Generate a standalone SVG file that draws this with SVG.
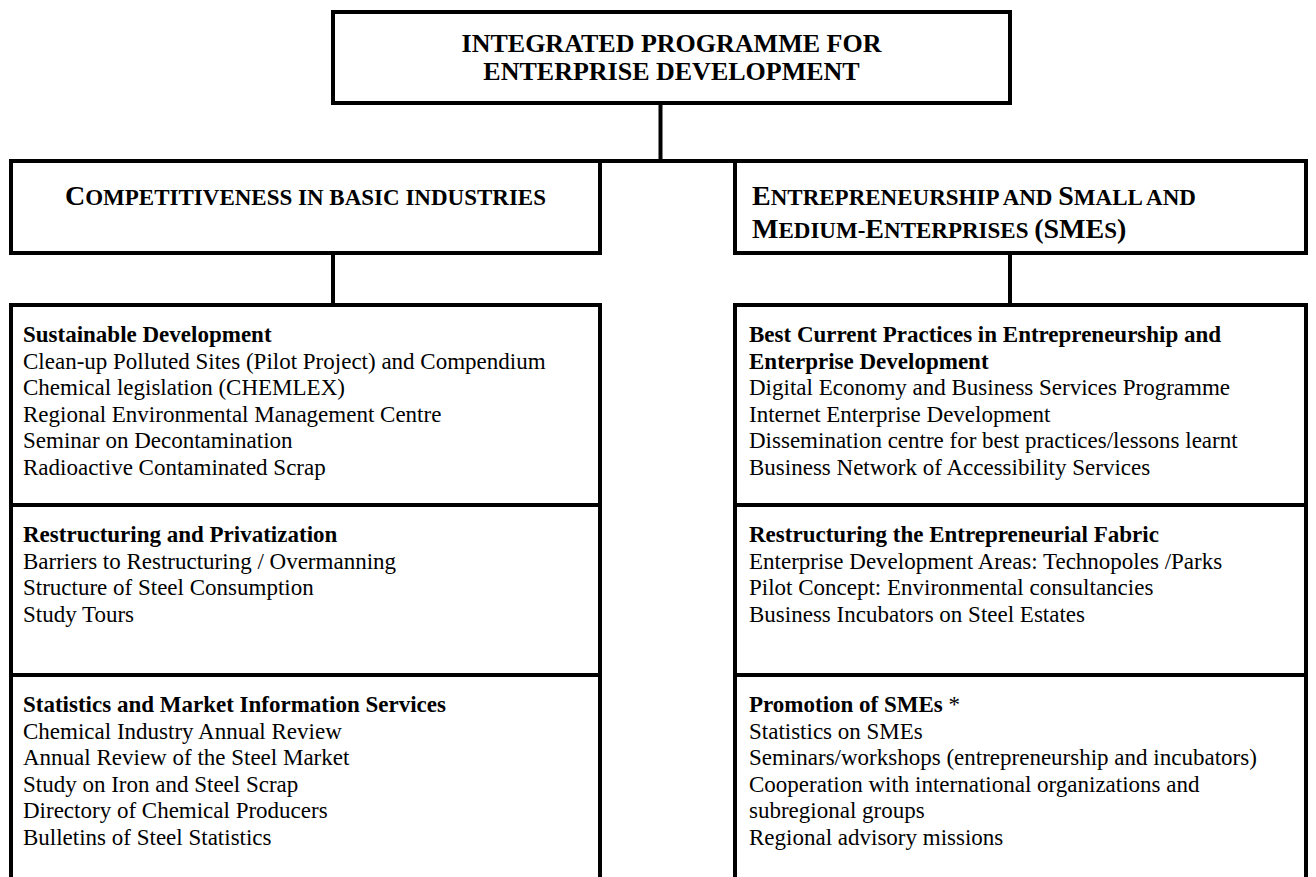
<svg xmlns="http://www.w3.org/2000/svg" width="1316" height="877" viewBox="0 0 1316 877">
<style>
.box{fill:#fff;stroke:#000;stroke-width:4}
.frame{fill:none;stroke:#000;stroke-width:4}
.div{stroke:#000;stroke-width:4}
.conn line{stroke:#000;stroke-width:4}
text{font-family:"Liberation Serif","Times New Roman",serif;fill:#000}
.title{font-size:26px;font-weight:bold}
.hd{font-size:28px;font-weight:bold}
.sc{font-size:23px}
.t{font-size:23px}
.b{font-weight:bold}
</style>
<rect width="1316" height="877" fill="#fff"/>
<g id="connectors" class="conn">
<line x1="660.5" y1="103" x2="660.5" y2="161"/>
<line x1="600" y1="161" x2="735" y2="161"/>
<line x1="333" y1="253" x2="333" y2="305"/>
<line x1="1010" y1="253" x2="1010" y2="305"/>
</g>
<g id="top">
<rect class="box" x="333" y="12" width="677" height="91"/>
<text class="title" x="671.5" y="52" text-anchor="middle">INTEGRATED PROGRAMME FOR</text>
<text class="title" x="671.5" y="80" text-anchor="middle">ENTERPRISE DEVELOPMENT</text>
</g>
<g id="competitiveness">
<rect class="box" x="11" y="161" width="589" height="92"/>
<text class="hd" x="305.5" y="205" text-anchor="middle">C<tspan class="sc">OMPETITIVENESS IN BASIC INDUSTRIES</tspan></text>
</g>
<g id="entrepreneurship">
<rect class="box" x="735" y="161" width="571" height="92"/>
<text class="hd" x="752" y="205">E<tspan class="sc">NTREPRENEURSHIP AND </tspan>S<tspan class="sc">MALL AND</tspan></text>
<text class="hd" x="752" y="238">M<tspan class="sc">EDIUM-</tspan>E<tspan class="sc">NTERPRISES </tspan>(SME<tspan class="sc">S</tspan>)</text>
</g>
<g id="left-programmes">
<path class="frame" d="M11,877 V305 H600 V877"/>
<line class="div" x1="11" y1="505" x2="600" y2="505"/>
<line class="div" x1="11" y1="675" x2="600" y2="675"/>
<g id="sustainable-development">
<text class="t b" x="23" y="342">Sustainable Development</text>
<text class="t" x="23" y="368.6">Clean-up Polluted Sites (Pilot Project) and Compendium</text>
<text class="t" x="23" y="395.2">Chemical legislation (CHEMLEX)</text>
<text class="t" x="23" y="421.8">Regional Environmental Management Centre</text>
<text class="t" x="23" y="448.4">Seminar on Decontamination</text>
<text class="t" x="23" y="475">Radioactive Contaminated Scrap</text>
</g>
<g id="restructuring-privatization">
<text class="t b" x="23" y="542">Restructuring and Privatization</text>
<text class="t" x="23" y="568.6">Barriers to Restructuring / Overmanning</text>
<text class="t" x="23" y="595.2">Structure of Steel Consumption</text>
<text class="t" x="23" y="621.8">Study Tours</text>
</g>
<g id="statistics-market">
<text class="t b" x="23" y="712">Statistics and Market Information Services</text>
<text class="t" x="23" y="738.6">Chemical Industry Annual Review</text>
<text class="t" x="23" y="765.2">Annual Review of the Steel Market</text>
<text class="t" x="23" y="791.8">Study on Iron and Steel Scrap</text>
<text class="t" x="23" y="818.4">Directory of Chemical Producers</text>
<text class="t" x="23" y="845">Bulletins of Steel Statistics</text>
</g>
</g>
<g id="right-programmes">
<path class="frame" d="M735,877 V305 H1306 V877"/>
<line class="div" x1="735" y1="505" x2="1306" y2="505"/>
<line class="div" x1="735" y1="675" x2="1306" y2="675"/>
<g id="best-practices">
<text class="t b" x="749" y="342">Best Current Practices in Entrepreneurship and</text>
<text class="t b" x="749" y="368.6">Enterprise Development</text>
<text class="t" x="749" y="395.2">Digital Economy and Business Services Programme</text>
<text class="t" x="749" y="421.8">Internet Enterprise Development</text>
<text class="t" x="749" y="448.4">Dissemination centre for best practices/lessons learnt</text>
<text class="t" x="749" y="475">Business Network of Accessibility Services</text>
</g>
<g id="restructuring-fabric">
<text class="t b" x="749" y="542">Restructuring the Entrepreneurial Fabric</text>
<text class="t" x="749" y="568.6">Enterprise Development Areas: Technopoles /Parks</text>
<text class="t" x="749" y="595.2">Pilot Concept: Environmental consultancies</text>
<text class="t" x="749" y="621.8">Business Incubators on Steel Estates</text>
</g>
<g id="promotion-smes">
<text class="t" x="749" y="712"><tspan class="b">Promotion of SMEs</tspan> *</text>
<text class="t" x="749" y="738.6">Statistics on SMEs</text>
<text class="t" x="749" y="765.2">Seminars/workshops (entrepreneurship and incubators)</text>
<text class="t" x="749" y="791.8">Cooperation with international organizations and</text>
<text class="t" x="749" y="818.4">subregional groups</text>
<text class="t" x="749" y="845">Regional advisory missions</text>
</g>
</g>
</svg>
